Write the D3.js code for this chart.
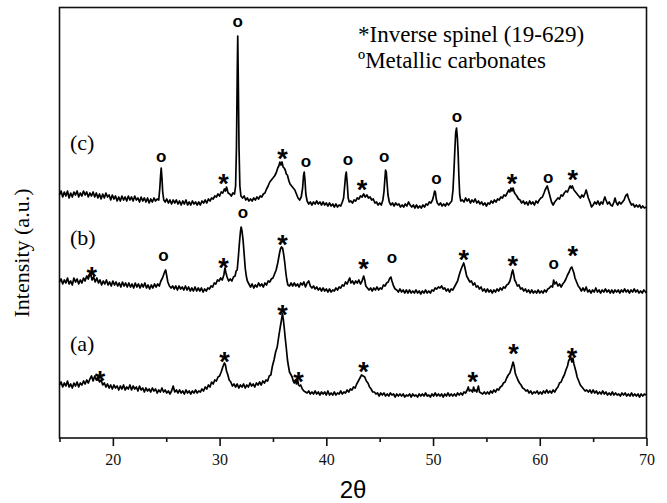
<!DOCTYPE html>
<html>
<head>
<meta charset="utf-8">
<script src="https://cdn.jsdelivr.net/npm/d3@7"></script>
<style>
  body { margin: 0; background: #fff; }
  .serif { font-family: "Liberation Serif", "Times New Roman", serif; }
  .sans { font-family: "Liberation Sans", Arial, sans-serif; }
</style>
</head>
<body>
<div id="chart"></div>
<script>
/* XRD patterns (a), (b), (c) : [2theta, intensity a.u.] */
let traceA = [[15.0,53],[15.15,56],[15.3,51],[15.45,55],[15.6,52],[15.75,57],[15.9,51],[16.05,54],[16.2,50],[16.35,55],[16.5,52],[16.65,56],[16.8,51],[16.95,55],[17.1,53],[17.25,57],[17.4,54],[17.55,58],[17.7,55],[17.85,59],[18.0,62],[18.15,57],[18.3,62],[18.45,58],[18.6,61],[18.75,56],[18.9,58],[19.05,53],[19.2,55],[19.35,51],[19.5,54],[19.65,50],[19.8,53],[19.95,49],[20.1,53],[20.25,50],[20.4,52],[20.55,48],[20.7,52],[20.85,49],[21.0,53],[21.15,48],[21.3,51],[21.45,49],[21.6,53],[21.75,48],[21.9,52],[22.05,49],[22.2,51],[22.35,47],[22.5,52],[22.65,48],[22.8,50],[22.95,46],[23.1,50],[23.25,47],[23.4,49],[23.55,46],[23.7,50],[23.85,47],[24.0,49],[24.15,45],[24.3,48],[24.45,46],[24.6,50],[24.75,46],[24.9,48],[25.05,45],[25.2,47],[25.35,44],[25.5,47],[25.65,52],[25.8,46],[25.95,48],[26.1,45],[26.25,48],[26.4,45],[26.55,47],[26.7,44],[26.85,48],[27.0,45],[27.15,47],[27.3,44],[27.45,47],[27.6,45],[27.75,48],[27.9,45],[28.05,47],[28.2,46],[28.35,49],[28.5,47],[28.65,51],[28.8,49],[28.95,53],[29.1,51],[29.25,56],[29.4,54],[29.55,58],[29.7,57],[29.85,61],[30.0,62],[30.15,66],[30.3,71],[30.45,75],[30.55,73],[30.65,67],[30.75,64],[30.9,58],[31.05,56],[31.2,52],[31.35,54],[31.5,51],[31.65,54],[31.8,50],[31.95,53],[32.1,51],[32.25,54],[32.4,50],[32.55,53],[32.7,51],[32.85,55],[33.0,52],[33.15,54],[33.3,51],[33.45,55],[33.6,53],[33.75,56],[33.9,53],[34.05,57],[34.2,55],[34.35,58],[34.5,57],[34.65,62],[34.8,63],[34.95,72],[35.1,78],[35.25,86],[35.4,91],[35.55,102],[35.7,112],[35.8,118],[35.89,124.7],[35.98,118],[36.05,111],[36.15,100],[36.25,90],[36.36,78],[36.45,72],[36.55,66],[36.65,64],[36.8,61],[36.9,57],[37.0,55],[37.1,58],[37.2,54],[37.3,59],[37.4,53],[37.5,52],[37.6,53],[37.75,49],[37.9,47],[38.05,46],[38.2,45],[38.35,47],[38.5,44],[38.65,46],[38.8,44],[38.95,47],[39.1,44],[39.25,46],[39.4,43],[39.55,46],[39.7,44],[39.85,46],[40.0,43],[40.15,47],[40.3,43],[40.45,45],[40.6,43],[40.75,46],[40.9,43],[41.05,45],[41.2,44],[41.35,47],[41.5,44],[41.65,46],[41.8,45],[41.95,48],[42.1,46],[42.25,49],[42.4,48],[42.55,51],[42.7,50],[42.85,54],[43.0,57],[43.15,60],[43.3,63],[43.45,62],[43.6,61],[43.75,57],[43.9,55],[44.05,51],[44.2,49],[44.35,46],[44.5,46],[44.65,44],[44.8,45],[44.95,42],[45.1,45],[45.25,43],[45.4,45],[45.55,42],[45.7,44],[45.85,42],[46.0,45],[46.15,43],[46.3,44],[46.45,41],[46.6,44],[46.75,42],[46.9,44],[47.05,42],[47.2,44],[47.35,41],[47.5,43],[47.65,42],[47.8,44],[47.95,41],[48.1,44],[48.25,42],[48.4,43],[48.55,41],[48.7,44],[48.85,42],[49.0,44],[49.15,42],[49.3,45],[49.45,42],[49.6,43],[49.75,41],[49.9,44],[50.05,42],[50.2,45],[50.35,42],[50.5,44],[50.65,42],[50.8,44],[50.95,41],[51.1,44],[51.25,42],[51.4,45],[51.55,42],[51.7,44],[51.85,42],[52.0,44],[52.15,42],[52.3,45],[52.45,43],[52.6,45],[52.75,43],[52.9,46],[53.05,45],[53.2,48],[53.3,51],[53.4,47],[53.55,48],[53.7,46],[53.8,51],[53.9,47],[54.0,48],[54.1,46],[54.25,52],[54.35,46],[54.5,45],[54.65,44],[54.8,46],[54.95,44],[55.1,46],[55.25,44],[55.4,47],[55.55,45],[55.7,48],[55.85,46],[56.0,49],[56.15,48],[56.3,51],[56.45,52],[56.6,55],[56.75,56],[56.9,60],[57.05,63],[57.2,65],[57.35,70],[57.5,76],[57.6,72],[57.7,65],[57.8,62],[57.95,58],[58.1,55],[58.25,53],[58.4,50],[58.55,49],[58.7,47],[58.85,48],[59.0,45],[59.15,47],[59.3,44],[59.45,46],[59.6,45],[59.75,47],[59.9,44],[60.05,46],[60.2,44],[60.35,47],[60.5,45],[60.65,48],[60.8,45],[60.95,47],[61.1,45],[61.25,48],[61.4,46],[61.55,49],[61.7,51],[61.85,55],[62.0,56],[62.15,60],[62.3,63],[62.45,68],[62.6,72],[62.7,77],[62.8,79],[62.9,81],[63.0,76],[63.1,80],[63.2,74],[63.3,70],[63.4,66],[63.5,61],[63.65,57],[63.8,53],[63.95,51],[64.1,49],[64.25,47],[64.4,48],[64.55,46],[64.7,48],[64.85,45],[65.0,48],[65.15,45],[65.3,47],[65.45,44],[65.6,46],[65.75,44],[65.9,47],[66.05,44],[66.2,46],[66.35,43],[66.5,45],[66.65,43],[66.8,46],[66.95,43],[67.1,45],[67.25,43],[67.4,44],[67.55,42],[67.7,45],[67.85,43],[68.0,45],[68.15,42],[68.3,44],[68.45,42],[68.6,45],[68.75,42],[68.9,44],[69.05,42],[69.2,44],[69.35,41],[69.5,44],[69.65,42],[69.8,44],[70.0,43]];

let traceB = [[15.0,156],[15.15,159],[15.3,154],[15.45,158],[15.6,155],[15.75,160],[15.9,154],[16.05,157],[16.2,153],[16.35,160],[16.5,156],[16.65,159],[16.8,154],[16.95,158],[17.1,155],[17.25,160],[17.4,157],[17.55,162],[17.7,159],[17.85,165],[17.95,163],[18.05,158],[18.2,161],[18.35,156],[18.5,160],[18.65,155],[18.8,158],[18.95,153],[19.1,157],[19.25,154],[19.4,158],[19.55,153],[19.7,156],[19.85,152],[20.0,157],[20.15,153],[20.3,156],[20.45,152],[20.6,155],[20.75,151],[20.9,156],[21.05,152],[21.2,155],[21.35,151],[21.5,155],[21.65,151],[21.8,154],[21.95,150],[22.1,155],[22.25,151],[22.4,154],[22.55,150],[22.7,154],[22.85,151],[23.0,155],[23.15,150],[23.3,153],[23.45,149],[23.6,153],[23.75,150],[23.9,154],[24.05,151],[24.2,154],[24.35,152],[24.5,157],[24.65,160],[24.75,163],[24.85,166],[24.95,168],[25.05,162],[25.15,156],[25.3,152],[25.45,150],[25.6,152],[25.75,149],[25.9,152],[26.05,148],[26.2,152],[26.35,149],[26.5,151],[26.65,148],[26.8,152],[26.95,148],[27.1,151],[27.25,147],[27.4,150],[27.55,147],[27.7,151],[27.85,147],[28.0,150],[28.15,147],[28.3,150],[28.45,146],[28.6,149],[28.75,147],[28.9,150],[29.05,149],[29.2,152],[29.35,151],[29.5,155],[29.65,154],[29.8,158],[29.95,157],[30.1,160],[30.25,158],[30.4,163],[30.5,170],[30.6,165],[30.7,161],[30.85,157],[31.0,159],[31.15,157],[31.3,161],[31.45,162],[31.55,167],[31.65,168],[31.75,180],[31.85,194],[31.95,206],[32.02,211],[32.1,207],[32.2,198],[32.3,184],[32.4,170],[32.5,162],[32.6,157],[32.75,154],[32.9,151],[33.05,154],[33.2,150],[33.35,153],[33.5,151],[33.65,155],[33.8,152],[33.95,154],[34.1,151],[34.25,155],[34.4,153],[34.55,157],[34.7,156],[34.85,159],[35.0,160],[35.15,164],[35.3,168],[35.45,175],[35.6,184],[35.7,189],[35.8,191],[35.9,190],[36.0,184],[36.1,176],[36.2,166],[36.3,158],[36.4,153],[36.55,152],[36.7,155],[36.85,152],[37.0,155],[37.15,152],[37.3,154],[37.45,151],[37.6,155],[37.75,153],[37.9,156],[38.05,151],[38.2,155],[38.35,157],[38.5,152],[38.65,150],[38.8,152],[38.95,149],[39.1,151],[39.25,148],[39.4,150],[39.55,147],[39.7,150],[39.85,147],[40.0,149],[40.15,146],[40.3,149],[40.45,146],[40.6,148],[40.75,147],[40.9,150],[41.05,148],[41.2,151],[41.35,150],[41.5,153],[41.65,152],[41.8,156],[41.95,154],[42.1,158],[42.2,160],[42.3,155],[42.45,157],[42.6,154],[42.75,157],[42.9,155],[43.05,158],[43.2,154],[43.35,157],[43.5,162],[43.6,158],[43.7,152],[43.85,150],[44.0,148],[44.15,150],[44.3,147],[44.45,150],[44.6,148],[44.75,151],[44.9,148],[45.05,150],[45.2,149],[45.35,153],[45.5,152],[45.65,155],[45.8,156],[45.95,160],[46.05,161],[46.15,157],[46.3,152],[46.45,149],[46.6,148],[46.75,146],[46.9,149],[47.05,146],[47.2,148],[47.35,145],[47.5,148],[47.65,145],[47.8,148],[47.95,145],[48.1,147],[48.25,145],[48.4,148],[48.55,145],[48.7,147],[48.85,144],[49.0,147],[49.15,145],[49.3,148],[49.45,145],[49.6,147],[49.75,145],[49.9,148],[50.05,147],[50.2,150],[50.35,149],[50.5,151],[50.65,150],[50.8,152],[50.95,149],[51.1,150],[51.25,147],[51.4,149],[51.55,146],[51.7,149],[51.85,148],[52.0,151],[52.15,154],[52.3,157],[52.45,163],[52.6,168],[52.75,172],[52.87,175],[52.95,172],[53.05,167],[53.15,162],[53.3,159],[53.45,156],[53.6,157],[53.75,153],[53.9,155],[54.05,151],[54.2,152],[54.35,149],[54.5,151],[54.65,147],[54.8,149],[54.95,146],[55.1,149],[55.25,146],[55.4,148],[55.55,145],[55.7,148],[55.85,146],[56.0,149],[56.15,147],[56.3,150],[56.45,148],[56.6,151],[56.75,150],[56.9,153],[57.05,154],[57.2,157],[57.3,161],[57.4,166],[57.47,168],[57.55,164],[57.65,158],[57.75,156],[57.9,152],[58.05,153],[58.2,149],[58.35,150],[58.5,147],[58.65,149],[58.8,146],[58.95,148],[59.1,145],[59.25,148],[59.4,145],[59.55,147],[59.7,145],[59.85,148],[60.0,145],[60.15,147],[60.3,145],[60.45,148],[60.6,146],[60.75,149],[60.9,150],[61.05,152],[61.2,151],[61.3,158],[61.4,154],[61.55,156],[61.7,152],[61.85,154],[62.0,151],[62.15,154],[62.3,156],[62.45,159],[62.6,163],[62.75,166],[62.9,170],[63.0,171],[63.1,168],[63.2,165],[63.3,160],[63.45,156],[63.6,152],[63.75,150],[63.9,147],[64.05,150],[64.2,147],[64.35,151],[64.5,146],[64.65,148],[64.8,145],[64.95,148],[65.1,146],[65.25,150],[65.4,146],[65.55,148],[65.7,145],[65.85,148],[66.0,146],[66.15,149],[66.3,146],[66.45,148],[66.6,145],[66.75,148],[66.9,145],[67.05,148],[67.2,146],[67.35,148],[67.5,145],[67.65,148],[67.8,146],[67.95,149],[68.1,146],[68.25,148],[68.4,145],[68.55,148],[68.7,146],[68.85,149],[69.0,146],[69.15,148],[69.3,145],[69.45,147],[69.6,145],[69.75,148],[70.0,145]];

let traceC = [[15.0,243],[15.15,247],[15.3,241],[15.45,246],[15.6,242],[15.75,247],[15.9,240],[16.05,245],[16.2,241],[16.35,246],[16.5,243],[16.65,247],[16.8,241],[16.95,245],[17.1,242],[17.25,247],[17.4,243],[17.55,246],[17.7,241],[17.85,245],[18.0,242],[18.15,246],[18.3,241],[18.45,245],[18.6,240],[18.75,244],[18.9,239],[19.05,244],[19.2,240],[19.35,245],[19.5,241],[19.65,243],[19.8,238],[19.95,243],[20.1,239],[20.25,242],[20.4,237],[20.55,241],[20.7,237],[20.85,242],[21.0,238],[21.15,241],[21.3,237],[21.45,242],[21.6,238],[21.75,241],[21.9,237],[22.05,242],[22.2,238],[22.35,240],[22.5,236],[22.65,241],[22.8,237],[22.95,240],[23.1,236],[23.25,240],[23.4,235],[23.55,239],[23.7,236],[23.85,240],[24.0,237],[24.15,239],[24.3,238],[24.4,250],[24.47,262],[24.53,270],[24.6,260],[24.67,246],[24.77,238],[24.9,236],[25.05,239],[25.2,235],[25.35,238],[25.5,234],[25.65,238],[25.8,235],[25.95,238],[26.1,234],[26.25,237],[26.4,233],[26.55,237],[26.7,234],[26.85,238],[27.0,233],[27.15,236],[27.3,233],[27.45,237],[27.6,234],[27.75,236],[27.9,233],[28.05,236],[28.2,233],[28.35,237],[28.5,235],[28.65,238],[28.8,235],[28.95,239],[29.1,237],[29.25,240],[29.4,239],[29.55,242],[29.7,241],[29.85,244],[30.0,242],[30.15,246],[30.3,245],[30.45,249],[30.55,247],[30.65,251],[30.8,245],[30.95,244],[31.1,242],[31.25,245],[31.4,244],[31.5,252],[31.58,290],[31.65,360],[31.7,402],[31.75,360],[31.82,290],[31.9,252],[32.0,242],[32.15,240],[32.3,242],[32.45,238],[32.6,240],[32.75,237],[32.9,239],[33.05,237],[33.2,240],[33.35,238],[33.5,241],[33.65,239],[33.8,242],[33.95,241],[34.1,244],[34.25,245],[34.4,249],[34.55,252],[34.7,256],[34.85,258],[35.0,260],[35.15,262],[35.3,265],[35.45,270],[35.55,272],[35.65,276],[35.75,273],[35.85,276],[35.95,271],[36.05,270],[36.15,268],[36.25,264],[36.35,263],[36.5,257],[36.6,254],[36.75,252],[36.9,250],[37.05,248],[37.2,244],[37.35,240],[37.5,238],[37.65,241],[37.78,250],[37.86,262],[37.93,266],[38.0,258],[38.08,244],[38.2,237],[38.35,234],[38.5,236],[38.65,233],[38.8,236],[38.95,234],[39.1,237],[39.25,234],[39.4,236],[39.55,233],[39.7,236],[39.85,233],[40.0,235],[40.15,232],[40.3,235],[40.45,232],[40.6,234],[40.75,231],[40.9,234],[41.05,231],[41.2,233],[41.35,232],[41.5,236],[41.62,240],[41.72,252],[41.8,262],[41.87,266],[41.95,256],[42.05,240],[42.15,236],[42.3,237],[42.45,235],[42.6,238],[42.75,237],[42.9,240],[43.05,239],[43.2,242],[43.35,241],[43.5,244],[43.65,241],[43.8,243],[43.95,240],[44.1,241],[44.25,238],[44.4,239],[44.55,235],[44.7,236],[44.85,233],[45.0,235],[45.15,233],[45.3,238],[45.4,246],[45.48,258],[45.55,268],[45.62,266],[45.7,254],[45.78,243],[45.9,236],[46.05,233],[46.2,235],[46.35,232],[46.5,235],[46.65,233],[46.8,234],[46.95,231],[47.1,233],[47.25,231],[47.4,234],[47.55,232],[47.7,236],[47.85,233],[48.0,231],[48.15,233],[48.3,230],[48.45,233],[48.6,230],[48.75,232],[48.9,230],[49.05,233],[49.2,231],[49.35,234],[49.5,233],[49.65,236],[49.8,235],[49.95,238],[50.05,242],[50.15,247],[50.22,246],[50.3,239],[50.4,235],[50.55,233],[50.7,235],[50.85,232],[51.0,234],[51.15,232],[51.3,235],[51.45,233],[51.6,235],[51.75,237],[51.87,248],[51.97,270],[52.05,290],[52.12,305],[52.2,310],[52.28,300],[52.35,285],[52.42,262],[52.5,243],[52.6,237],[52.75,238],[52.9,236],[53.05,240],[53.2,237],[53.35,239],[53.5,235],[53.65,238],[53.8,236],[53.95,239],[54.1,235],[54.25,237],[54.4,234],[54.55,236],[54.7,233],[54.85,235],[55.0,232],[55.15,235],[55.3,234],[55.45,237],[55.6,235],[55.75,238],[55.9,236],[56.05,239],[56.2,238],[56.35,241],[56.5,240],[56.65,243],[56.8,242],[56.95,245],[57.1,248],[57.2,246],[57.3,250],[57.4,247],[57.5,250],[57.6,246],[57.7,244],[57.85,242],[58.0,239],[58.15,238],[58.3,235],[58.45,237],[58.6,234],[58.75,236],[58.9,233],[59.05,237],[59.2,234],[59.35,236],[59.5,233],[59.65,237],[59.8,235],[59.95,238],[60.1,240],[60.25,241],[60.4,245],[60.5,248],[60.6,250],[60.7,252],[60.8,248],[60.9,244],[61.0,240],[61.1,236],[61.25,233],[61.4,236],[61.55,238],[61.7,240],[61.85,239],[62.0,243],[62.15,242],[62.3,245],[62.45,247],[62.6,246],[62.75,250],[62.85,252],[62.95,250],[63.05,252],[63.2,248],[63.35,246],[63.5,244],[63.65,242],[63.8,240],[63.95,243],[64.1,241],[64.25,245],[64.35,248],[64.45,244],[64.55,240],[64.7,236],[64.85,231],[65.0,233],[65.15,236],[65.3,234],[65.45,237],[65.6,233],[65.75,236],[65.9,234],[66.0,238],[66.1,241],[66.2,238],[66.35,234],[66.5,236],[66.65,233],[66.8,232],[66.95,236],[67.05,240],[67.15,236],[67.3,233],[67.45,236],[67.6,234],[67.75,236],[67.9,238],[68.0,241],[68.1,243],[68.2,244],[68.3,240],[68.45,236],[68.6,233],[68.75,234],[68.9,231],[69.05,233],[69.2,231],[69.35,233],[69.5,230],[69.65,232],[69.8,230],[70.0,231]];

// Peak markers: [2theta, intensity, symbol]
let markersA = [[18.8,64,"*"],[30.45,83,"*"],[35.9,130,"*"],[37.39,63,"*"],[43.49,73,"*"],[53.71,63,"*"],[57.55,91,"*"],[63.03,87,"*"]];
let markersB = [[18.02,168,"*"],[24.74,182,"o"],[30.36,177,"*"],[32.18,225,"o"],[35.9,200,"*"],[43.49,176,"*"],[46.15,180,"o"],[52.87,185,"*"],[57.46,179,"*"],[61.31,174,"o"],[63.09,189,"*"]];
let markersC = [[24.52,281,"o"],[30.36,261,"*"],[31.7,416,"o"],[35.9,286,"*"],[38.09,276,"o"],[42.03,278,"o"],[43.34,255,"*"],[45.43,281,"o"],[50.31,259,"o"],[52.25,321,"o"],[57.4,261,"*"],[60.78,260,"o"],[63.09,265,"*"]];

let traceLabels = ["(a)", "(b)", "(c)"];
let labelLevels = [93, 199, 294];
let majorTicks = [20, 30, 40, 50, 60, 70];
let minorTicks = [15, 25, 35, 45, 55, 65];
let legendLines = ["*Inverse spinel (19-629)", "\u00baMetallic carbonates"];

// Dimensions
let w = 667, h = 503;
let padLeft = 59.5, padRight = 646.5, padTop = 7.5, padBottom = 438;

let svg = d3.select("#chart").append("svg").attr("width", w).attr("height", h);

let xScale = d3.scaleLinear().domain([15, 70]).range([padLeft, padRight]);
let yScale = d3.scaleLinear().domain([0, 430.5]).range([padBottom, padTop]);

// Axes (major + minor ticks, outward)
let xAxis = d3.axisBottom(xScale).tickValues(majorTicks).tickSize(8).tickPadding(8).tickFormat(d3.format("d"));
let xMinor = d3.axisBottom(xScale).tickValues(minorTicks).tickSize(4).tickFormat("");

let gx = svg.append("g").attr("transform", "translate(0," + padBottom + ")").call(xAxis);
let gm = svg.append("g").attr("transform", "translate(0," + padBottom + ")").call(xMinor);
[gx, gm].forEach((g) => {
  g.select(".domain").remove();
  g.selectAll("line").attr("stroke", "#111").attr("stroke-width", 1.6);
});
gx.selectAll("text").attr("class", "serif").style("font-size", "16px").attr("fill", "#111");

// Frame
svg.append("rect").attr("x", padLeft).attr("y", padTop).attr("width", padRight - padLeft).attr("height", padBottom - padTop)
  .attr("fill", "none").attr("stroke", "#111").attr("stroke-width", 1.6);

// Lines
let line = d3.line().x((d) => xScale(d[0])).y((d) => yScale(d[1]));
[traceA, traceB, traceC].forEach((t) => {
  svg.append("path").datum(t).attr("d", line).attr("fill", "none")
    .attr("stroke", "#000").attr("stroke-width", 1.7).attr("stroke-linejoin", "round");
});

// Peak markers
[markersA, markersB, markersC].forEach((m) => {
  svg.selectAll(null).data(m).enter().append("text")
    .attr("class", "sans")
    .attr("x", (d) => xScale(d[0]))
    .attr("y", (d) => yScale(d[1]))
    .attr("dy", (d) => d[2] == "*" ? "0.6em" : "0.28em")
    .attr("text-anchor", "middle")
    .style("font-size", (d) => d[2] == "*" ? "27px" : "17px")
    .style("font-weight", "bold")
    .text((d) => d[2]);
});

// Trace labels
svg.selectAll(null).data(traceLabels).enter().append("text")
  .attr("class", "serif").attr("x", 70).attr("y", (d, i) => yScale(labelLevels[i]) + 5.5)
  .style("font-size", "22px").text((d) => d);

// Legend
svg.selectAll(null).data(legendLines).enter().append("text")
  .attr("class", "serif").attr("x", 358).attr("y", (d, i) => 41.7 + i * 26.6)
  .style("font-size", "23px").text((d) => d);

// Axis titles
svg.append("text").attr("class", "sans").attr("x", (padLeft + padRight) / 2).attr("y", 498)
  .attr("text-anchor", "middle").style("font-size", "24px").text("2\u03b8");
svg.append("text").attr("class", "serif").attr("transform", "translate(28.5,253) rotate(-90)")
  .attr("text-anchor", "middle").style("font-size", "22px").text("Intensity (a.u.)");
</script>
</body>
</html>
